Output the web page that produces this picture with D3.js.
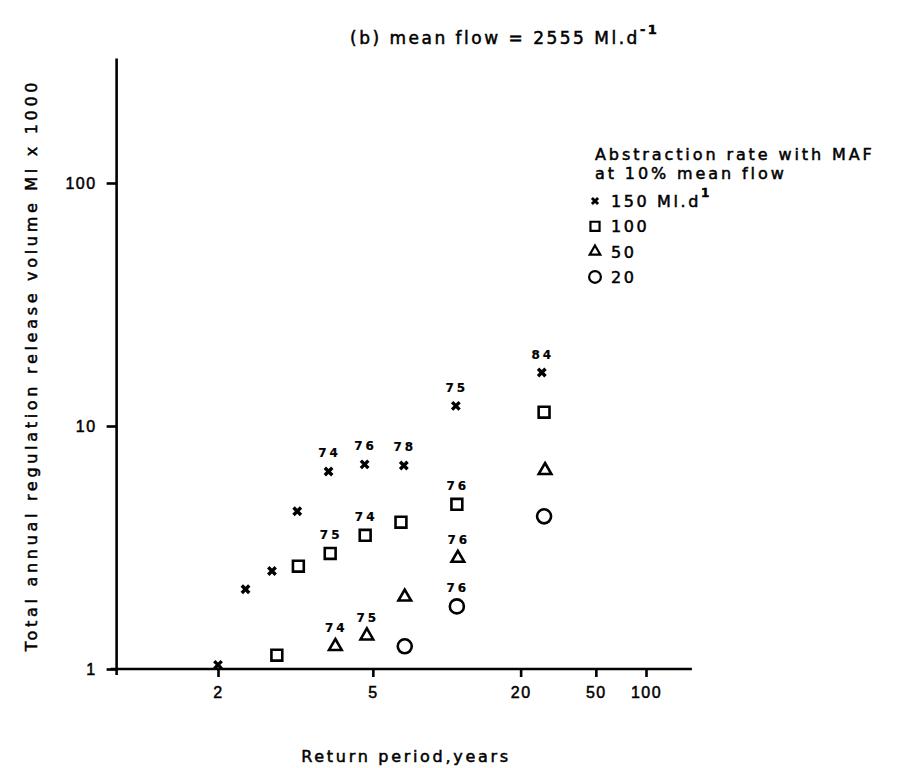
<!DOCTYPE html>
<html>
<head>
<meta charset="utf-8">
<script src="https://cdn.jsdelivr.net/npm/d3@7"></script>
<style>
  body { margin: 0; background: #fff; }
  svg { font-family: "DejaVu Sans", "Liberation Sans", sans-serif; }
  svg text { fill: #000; stroke: #000; stroke-width: 0.5; }
  .axis path, .axis line { stroke: #000; stroke-width: 2.6; }
  .axis text { font-size: 16px; letter-spacing: 1.5px; }
</style>
</head>
<body>
<svg id="chart" width="900" height="768"></svg>
<script>
// return period (years) and release volume (Ml x 1000) per abstraction rate
const returnPeriods150 = [2.0, 2.27, 2.6, 3.0, 3.65, 4.7, 6.4, 10.2, 25.5];
const volumes150 = [1.04, 2.13, 2.53, 4.46, 6.5, 6.95, 6.88, 12.1, 16.6];
const years150 = ["", "", "", "", "74", "76", "78", "75", "84"];

const returnPeriods100 = [2.67, 3.02, 3.69, 4.72, 6.25, 10.3, 26.2];
const volumes100 = [1.14, 2.65, 2.99, 3.55, 4.02, 4.76, 11.4];
const years100 = ["", "", "75", "74", "", "76", ""];

const returnPeriods50 = [3.82, 4.78, 6.45, 10.4, 26.5];
const volumes50 = [1.24, 1.37, 1.98, 2.86, 6.57];
const years50 = ["74", "75", "", "76", ""];

const returnPeriods20 = [6.45, 10.3, 26.2];
const volumes20 = [1.24, 1.81, 4.25];
const years20 = ["", "76", ""];

const xTicks = [2, 5, 20, 50, 100];
const yTicks = [1, 10, 100];

// inverse of the standard normal distribution (probability paper axis)
function probit(p) {
  const a = [-39.69683028665376, 220.9460984245205, -275.9285104469687, 138.3577518672690, -30.66479806614716, 2.506628274631000];
  const b = [-54.47609879822406, 161.5858368580409, -155.6989798598866, 66.80131188771972, -13.28068155288572];
  const c = [-0.007784894002430293, -0.3223964580411365, -2.400758277161838, -2.549732539343734, 4.374664141464968, 2.938163982698783];
  const d = [0.007784695709041462, 0.3224671290700398, 2.445134137142996, 3.754408661907416];
  const pl = 0.02425;
  let q, r;
  if (p < pl) {
    q = Math.sqrt(-2 * Math.log(p));
    return (((((c[0]*q+c[1])*q+c[2])*q+c[3])*q+c[4])*q+c[5]) / ((((d[0]*q+d[1])*q+d[2])*q+d[3])*q+1);
  } else if (p <= 1 - pl) {
    q = p - 0.5; r = q * q;
    return (((((a[0]*r+a[1])*r+a[2])*r+a[3])*r+a[4])*r+a[5])*q / (((((b[0]*r+b[1])*r+b[2])*r+b[3])*r+b[4])*r+1);
  }
  q = Math.sqrt(-2 * Math.log(1 - p));
  return -(((((c[0]*q+c[1])*q+c[2])*q+c[3])*q+c[4])*q+c[5]) / ((((d[0]*q+d[1])*q+d[2])*q+d[3])*q+1);
}
const zOf = T => probit(1 - 1 / T);

const svg = d3.select("#chart");

const x = d3.scaleLinear().domain([zOf(2), zOf(100)]).range([218, 646]);
const y = d3.scaleLog().domain([1, 100]).range([669, 183]);
const xStart = 1.41, xEnd = 200, yTop = 325;

// x axis
const xAxis = svg.append("g")
    .attr("class", "axis")
    .attr("transform", "translate(0," + y(1) + ")")
    .call(d3.axisBottom(x).tickValues(xTicks.map(zOf)).tickFormat((d, i) => xTicks[i]).tickSize(8).tickSizeOuter(0).tickPadding(10));
xAxis.select(".domain").attr("d", "M" + (x(zOf(xStart)) - 6) + ",0H" + x(zOf(xEnd)));

// y axis
const yAxis = svg.append("g")
    .attr("class", "axis")
    .attr("transform", "translate(" + x(zOf(xStart)) + ",0)")
    .call(d3.axisLeft(y).tickValues(yTicks).tickFormat(d3.format("d")).tickSize(10).tickSizeOuter(0).tickPadding(10));
yAxis.select(".domain").attr("d", "M0," + (y(1) + 6) + "V" + y(yTop));

// title and axis labels
const title = svg.append("text")
    .attr("x", 350).attr("y", 44)
    .attr("font-size", 17).attr("letter-spacing", 2.5);
title.append("tspan").text("(b)  mean flow = 2555 Ml.d");
title.append("tspan").attr("dy", -10).attr("font-size", 13).attr("font-weight", "bold").text("-1");

svg.append("text")
    .attr("transform", "translate(37,365) rotate(-90)")
    .attr("text-anchor", "middle")
    .attr("font-size", 16).attr("letter-spacing", 3.7)
    .text("Total annual regulation release volume Ml x 1000");

svg.append("text")
    .attr("x", 406).attr("y", 762)
    .attr("text-anchor", "middle")
    .attr("font-size", 16).attr("letter-spacing", 2.7)
    .text("Return period,years");

// series
const series = [
  {T: returnPeriods150, v: volumes150, yr: years150, sym: d3.symbolTimes, size: 38, sw: 3.4, label: "150 Ml.d", sup: true},
  {T: returnPeriods100, v: volumes100, yr: years100, sym: d3.symbolSquare2, size: 150, sw: 2.6, label: "100"},
  {T: returnPeriods50, v: volumes50, yr: years50, sym: d3.symbolTriangle2, size: 115, sw: 2.6, label: "50"},
  {T: returnPeriods20, v: volumes20, yr: years20, sym: d3.symbolCircle, size: 155, sw: 2.6, label: "20"}
];

series.forEach(s => {
  const pts = s.T.map((t, i) => ({t: t, v: s.v[i], yr: s.yr[i]}));
  const g = svg.append("g");
  g.selectAll("path")
    .data(pts)
    .enter().append("path")
      .attr("transform", d => "translate(" + x(zOf(d.t)) + "," + y(d.v) + ")")
      .attr("d", d3.symbol().type(s.sym).size(s.size))
      .attr("fill", "none")
      .attr("stroke", "#000")
      .attr("stroke-width", s.sw);
  g.selectAll("text")
    .data(pts.filter(d => d.yr))
    .enter().append("text")
      .attr("x", d => x(zOf(d.t)) + 1)
      .attr("y", d => y(d.v) - 14)
      .attr("text-anchor", "middle")
      .attr("font-size", 12).attr("font-weight", "bold").attr("letter-spacing", 3)
      .style("stroke-width", 0.2)
      .text(d => d.yr);
});

// legend
const legend = svg.append("g").attr("transform", "translate(595,0)");
legend.append("text").attr("x", 0).attr("y", 160)
    .attr("font-size", 16).attr("letter-spacing", 2.9)
    .text("Abstraction rate with MAF");
legend.append("text").attr("x", 0).attr("y", 179)
    .attr("font-size", 16).attr("letter-spacing", 2.9)
    .text("at 10% mean flow");

series.forEach((s, i) => {
  const cy = 201 + i * 25.3;
  legend.append("path")
      .attr("transform", "translate(0," + cy + ")")
      .attr("d", d3.symbol().type(s.sym).size(s.size * 0.7))
      .attr("fill", "none")
      .attr("stroke", "#000")
      .attr("stroke-width", s.sw * 0.85);
  const t = legend.append("text").attr("x", 16).attr("y", cy + 6)
      .attr("font-size", 16).attr("letter-spacing", 2.6);
  t.append("tspan").text(s.label);
  if (s.sup) t.append("tspan").attr("dy", -10).attr("font-size", 12).attr("font-weight", "bold").text("1");
});
</script>
</body>
</html>
